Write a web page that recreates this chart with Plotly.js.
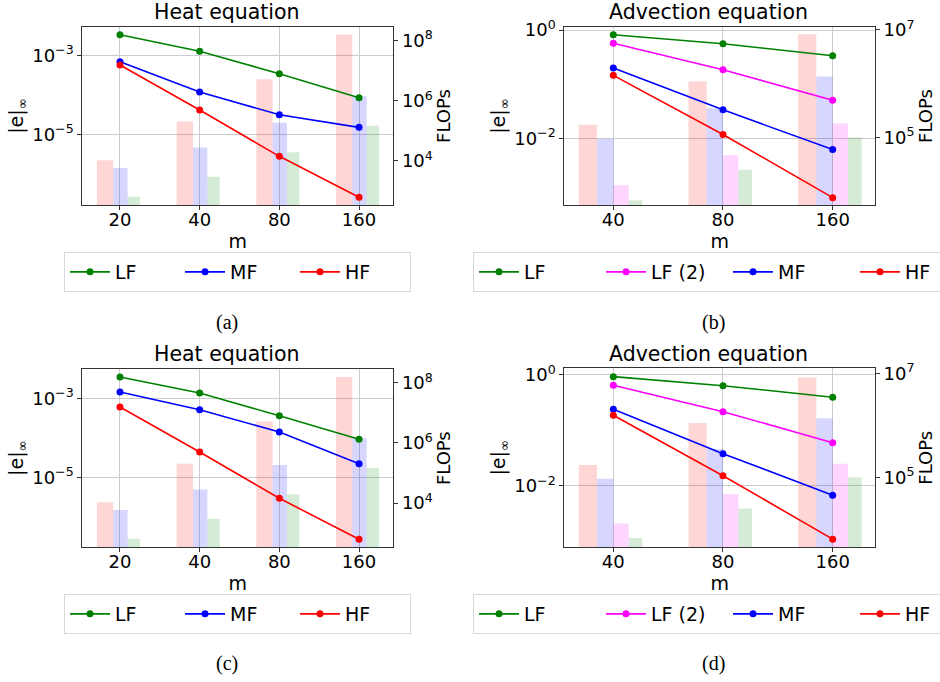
<!DOCTYPE html>
<html><head><meta charset="utf-8">
<script src="https://cdn.plot.ly/plotly-3.0.1.min.js"></script>
<style>html,body{margin:0;padding:0;background:#fff}#chart{width:940px;height:682px}</style>
</head><body><div id="chart"></div>
<script>
// ---------- DATA ----------
const heatM = ['20', '40', '80', '160'];
const advM = ['40', '80', '160'];

// Heat equation, panel (a): |e|_inf
const heatA_LF = [3.33e-3, 1.26e-3, 3.42e-4, 8.45e-5];
const heatA_MF = [6.9e-4, 1.18e-4, 3.13e-5, 1.5e-5];
const heatA_HF = [5.68e-4, 4.12e-5, 2.77e-6, 2.54e-7];
// Heat equation, panel (c): |e|_inf
const heatC_LF = [3.46e-3, 1.36e-3, 3.63e-4, 9.2e-5];
const heatC_MF = [1.44e-3, 5.15e-4, 1.4e-4, 2.21e-5];
const heatC_HF = [6.02e-4, 4.38e-5, 2.94e-6, 2.69e-7];
// Heat equation FLOPs (bars)
const heatFlops_HF = [1.06e4, 2.04e5, 5.2e6, 1.58e8];
const heatFlops_MF = [5.8e3, 2.8e4, 1.85e5, 1.42e6];
const heatFlops_LF = [641, 2.97e3, 1.96e4, 1.47e5];

// Advection equation, panel (b): |e|_inf
const advB_LF = [0.819, 0.558, 0.335];
const advB_LF2 = [0.568, 0.185, 0.0509];
const advB_MF = [0.199, 0.0337, 0.00625];
const advB_HF = [0.146, 0.01186, 8.1e-4];
// Advection equation, panel (d): |e|_inf
const advD_LF = [0.933, 0.641, 0.396];
const advD_LF2 = [0.652, 0.218, 0.0603];
const advD_MF = [0.241, 0.0382, 0.0068];
const advD_HF = [0.188, 0.0153, 0.0011];
// Advection equation FLOPs (bars)
const advFlops_HF = [1.72e5, 1.11e6, 8.3e6];
const advFlops_MF = [9.4e4, 3.5e5, 1.37e6];
const advFlops_LF2 = [1.3e4, 4.7e4, 1.82e5];
const advFlops_LF = [6.8e3, 2.5e4, 1.0e5];

// ---------- STYLE / LAYOUT ----------
const W = 940, H = 682;
const px = v => v / W;
const py = v => 1 - v / H;
const FONT = 'DejaVu Sans';
const COL = {LF: '#008000', LF2: '#ff00ff', MF: '#0000ff', HF: '#ff0000'};
const BARCOL = {LF: 'rgba(0,128,0,0.16)', LF2: 'rgba(255,0,255,0.16)', MF: 'rgba(0,0,255,0.16)', HF: 'rgba(255,0,0,0.16)'};
const GRID = '#cccccc';
const FRAME = '#333333';

const heatBarGeom = {HF: [-0.289, 0.205], MF: [-0.084, 0.18], LF: [0.096, 0.155]};
const advBarGeom = {HF: [-0.315, 0.166], MF: [-0.149, 0.149], LF2: [0, 0.14], LF: [0.14, 0.124]};

function sup(n) { return '10<sup>' + (n < 0 ? '\u2212' + (-n) : n) + '</sup>'; }

const traces = [];
const layout = {
  width: W, height: H,
  margin: {l: 0, r: 0, t: 0, b: 0, autoexpand: false},
  paper_bgcolor: '#fff', plot_bgcolor: '#fff',
  barmode: 'overlay',
  showlegend: true,
  font: {family: FONT, size: 18, color: '#000'},
  annotations: []
};

function panel(p) {
  const xn = p.x, yb = p.yb, ye = p.ye;
  const xk = 'xaxis' + xn.slice(1), ybk = 'yaxis' + yb.slice(1), yek = 'yaxis' + ye.slice(1);
  // bars (FLOPs, base axis on right)
  p.bars.forEach(b => {
    traces.push({
      type: 'bar', x: p.m, y: b.vals, xaxis: xn, yaxis: yb,
      offset: b.geom[0], width: b.geom[1],
      marker: {color: b.color, line: {width: 0}},
      showlegend: false, hoverinfo: 'skip'
    });
  });
  // lines (error, overlay axis on left)
  p.lines.forEach(l => {
    traces.push({
      type: 'scatter', mode: 'lines+markers', name: l.name,
      x: p.m, y: l.vals, xaxis: xn, yaxis: ye,
      line: {color: l.color, width: 1.6},
      marker: {color: l.color, size: 7},
      legend: p.legend
    });
  });
  const tickCommon = {ticks: 'outside', ticklen: 4, tickwidth: 1, tickcolor: FRAME,
    tickfont: {family: FONT, size: 18, color: '#000'}, automargin: false};
  layout[xk] = Object.assign({
    domain: [px(p.x0), px(p.x1)], anchor: yb, type: 'category',
    range: p.xrange, showgrid: true, gridcolor: GRID, gridwidth: 1,
    showline: true, mirror: true, linecolor: FRAME, linewidth: 1, zeroline: false,
    ticklabelstandoff: -6,
    title: {text: 'm', font: {family: FONT, size: 19, color: '#000'}, standoff: 5}
  }, tickCommon);
  layout[ybk] = Object.assign({
    domain: [py(p.y1), py(p.y0)], anchor: xn, side: 'right', type: 'log',
    range: p.rrange, showgrid: false, showline: true, mirror: true, linecolor: FRAME, linewidth: 1,
    tickmode: 'array', tickvals: p.rticks.map(n => Math.pow(10, n)), ticktext: p.rticks.map(sup),
    title: {text: 'FLOPs', font: {family: FONT, size: 18, color: '#000'}, standoff: 3}
  }, tickCommon);
  layout[yek] = Object.assign({
    overlaying: yb, anchor: xn, side: 'left', type: 'log',
    range: p.lrange, showgrid: true, gridcolor: GRID, gridwidth: 1, showline: false, zeroline: false,
    tickmode: 'array', tickvals: p.lticks.map(n => Math.pow(10, n)), ticktext: p.lticks.map(sup),
    title: {text: '|e|<sub>\u221e</sub>', font: {family: FONT, size: 19, color: '#000'}, standoff: 3}
  }, tickCommon);
  layout[p.legend] = {
    orientation: 'h', x: px(p.legX), y: py(p.legY), xanchor: 'left', yanchor: 'top',
    xref: 'paper', yref: 'paper',
    bgcolor: '#fff', bordercolor: '#d9d9d9', borderwidth: 1,
    font: {family: FONT, size: 19, color: '#000'},
    itemwidth: 40,
    entrywidth: p.entry, entrywidthmode: 'pixels', itemclick: false
  };
  layout.annotations.push({
    text: p.title, x: px(p.titleX), y: py(p.titleY), xref: 'paper', yref: 'paper',
    xanchor: 'center', yanchor: 'middle', showarrow: false,
    font: {family: FONT, size: 20.5, color: '#000'}
  });
  layout.annotations.push({
    text: p.caption, x: px(p.capX), y: py(p.capY), xref: 'paper', yref: 'paper',
    xanchor: 'center', yanchor: 'middle', showarrow: false,
    font: {family: 'Liberation Serif', size: 20, color: '#000'}
  });
}

function heatPanel(x, yb, ye, legend, y0, y1, LF, MF, HF, lrange, caption, titleY, legY, capY) {
  panel({
    x: x, yb: yb, ye: ye, legend: legend, m: heatM,
    x0: 82.3, x1: 393.3, y0: y0, y1: y1, xrange: [-0.473, 3.43],
    rrange: [2.525, 8.462], rticks: [4, 6, 8], lrange: lrange, lticks: [-3, -5],
    bars: [
      {vals: heatFlops_HF, color: BARCOL.HF, geom: heatBarGeom.HF},
      {vals: heatFlops_MF, color: BARCOL.MF, geom: heatBarGeom.MF},
      {vals: heatFlops_LF, color: BARCOL.LF, geom: heatBarGeom.LF}
    ],
    lines: [
      {name: 'LF', vals: LF, color: COL.LF},
      {name: 'MF', vals: MF, color: COL.MF},
      {name: 'HF', vals: HF, color: COL.HF}
    ],
    title: 'Heat equation', titleX: 226.7, titleY: titleY,
    caption: caption, capX: 227, capY: capY,
    legX: 64, legY: legY, entry: 60
  });
}

function advPanel(x, yb, ye, legend, y0, y1, LF, LF2, MF, HF, lrange, rrange, caption, titleY, legY, capY) {
  panel({
    x: x, yb: yb, ye: ye, legend: legend, m: advM,
    x0: 564.3, x1: 875, y0: y0, y1: y1, xrange: [-0.447, 2.386],
    rrange: rrange, rticks: [5, 7], lrange: lrange, lticks: [0, -2],
    bars: [
      {vals: advFlops_HF, color: BARCOL.HF, geom: advBarGeom.HF},
      {vals: advFlops_MF, color: BARCOL.MF, geom: advBarGeom.MF},
      {vals: advFlops_LF2, color: BARCOL.LF2, geom: advBarGeom.LF2},
      {vals: advFlops_LF, color: BARCOL.LF, geom: advBarGeom.LF}
    ],
    lines: [
      {name: 'LF', vals: LF, color: COL.LF},
      {name: 'LF (2)', vals: LF2, color: COL.LF2},
      {name: 'MF', vals: MF, color: COL.MF},
      {name: 'HF', vals: HF, color: COL.HF}
    ],
    title: 'Advection equation', titleX: 708.8, titleY: titleY,
    caption: caption, capX: 713, capY: capY,
    legX: 473, legY: legY, entry: 72
  });
}

heatPanel('x', 'y', 'y2', 'legend', 26.7, 205.3, heatA_LF, heatA_MF, heatA_HF, [-6.797, -2.276], '(a)', 12.5, 252, 322);
advPanel('x2', 'y3', 'y4', 'legend2', 26.7, 205.3, advB_LF, advB_LF2, advB_MF, advB_HF, [-3.232, 0.061], [3.739, 7.061], '(b)', 12.5, 252, 322);
heatPanel('x3', 'y5', 'y6', 'legend3', 369, 547.3, heatC_LF, heatC_MF, heatC_HF, [-6.772, -2.258], '(c)', 354, 594, 663);
advPanel('x4', 'y7', 'y8', 'legend4', 368.3, 547.3, advD_LF, advD_LF2, advD_MF, advD_HF, [-3.105, 0.12], [3.654, 7.096], '(d)', 354, 594, 663);

Plotly.newPlot('chart', traces, layout, {displayModeBar: false, staticPlot: true});
</script>
</body></html>
